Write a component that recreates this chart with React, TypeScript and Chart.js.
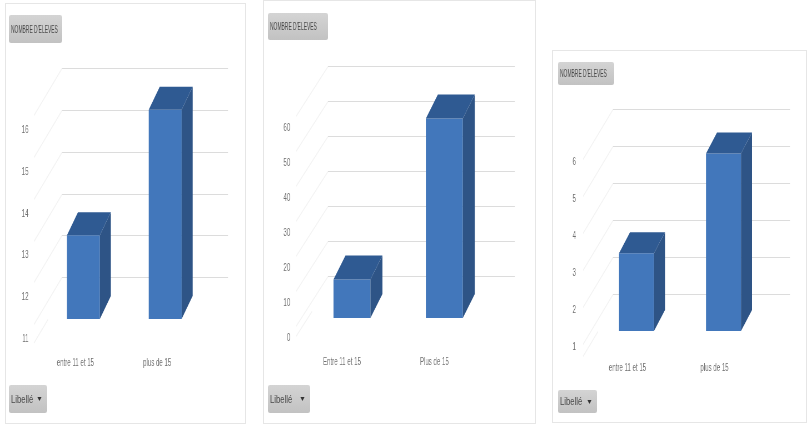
import React, { useEffect, useRef } from "react";
import { Chart, registerables } from "chart.js";

Chart.register(...registerables);

const FONT = "'Liberation Sans', Arial, sans-serif";
// Each canvas is drawn wide and narrowed with CSS, which gives the condensed lettering
const SQUEEZE = 1.8;

// Category names and pupil counts for each of the three pivot charts
const categoriesLower = ["entre 11 et 15", "plus de 15"];
const categoriesUpper = ["Entre 11 et 15", "Plus de 15"];
const countsLeft = [13, 16];
const countsMiddle = [11, 57];
const countsRight = [3.1, 5.8];
const ticksLeft = [11, 12, 13, 14, 15, 16];
const ticksMiddle = [0, 10, 20, 30, 40, 50, 60];
const ticksRight = [1, 2, 3, 4, 5, 6];
const valueTitle = "NOMBRE D'ELEVES";
const filterTitle = "Libellé";

type PanelSpec = {
  box: [number, number, number, number];
  categories: string[];
  values: number[];
  ticks: number[];
  range: [number, number];
  plot: { top: number; bottom: number; center: number; step: number; barWidth: number };
  depth: [number, number];
  grid: { left: number; right: number; shift: number };
  wall: [number, number];
  labelDrop: number;
  tickPad: number;
  catPad: number;
  catShift: number;
  titleChip: [number, number, number, number];
  filterChip: [number, number, number, number];
};

const panels: PanelSpec[] = [
  {
    box: [5, 3, 241, 421],
    categories: categoriesLower,
    values: countsLeft,
    ticks: ticksLeft,
    range: [11, 17],
    plot: { top: 68, bottom: 319, center: 83.5, step: 82, barWidth: 33 },
    depth: [11, 23],
    grid: { left: 62, right: 228, shift: 0 },
    wall: [28, 47],
    labelDrop: 20,
    tickPad: 14,
    catPad: 37.5,
    catShift: -8,
    titleChip: [9, 15, 53, 28],
    filterChip: [9, 385, 38, 28],
  },
  {
    box: [263, 0, 273, 424],
    categories: categoriesUpper,
    values: countsMiddle,
    ticks: ticksMiddle,
    range: [0, 70],
    plot: { top: 73, bottom: 318, center: 352, step: 92.5, barWidth: 37 },
    depth: [12, 24],
    grid: { left: 328, right: 515, shift: -7 },
    wall: [32, 50],
    labelDrop: 20,
    tickPad: 15.5,
    catPad: 37.5,
    catShift: -10,
    titleChip: [268, 13, 60, 27],
    filterChip: [268, 385, 42, 28],
  },
  {
    box: [552, 50, 255, 373],
    categories: categoriesLower,
    values: countsRight,
    ticks: ticksRight,
    range: [1, 7],
    plot: { top: 109, bottom: 331, center: 636.5, step: 87, barWidth: 35 },
    depth: [11, 21],
    grid: { left: 613, right: 790, shift: 0 },
    wall: [30, 50],
    labelDrop: 16,
    tickPad: 17,
    catPad: 30.5,
    catShift: -9,
    titleChip: [558, 62, 56, 23],
    filterChip: [558, 390, 39, 23],
  },
];

// Back wall, side wall and the extruded faces of each column
const extrusion = (spec: PanelSpec) => ({
  id: "extrusion",
  beforeDatasetsDraw(chart: any) {
    const { ctx } = chart;
    const y = chart.scales.y;
    const ox = spec.box[0];
    const left = (spec.grid.left - ox) * SQUEEZE;
    const right = (spec.grid.right - ox) * SQUEEZE;
    const run = spec.wall[0] * SQUEEZE;
    const drop = spec.wall[1];
    const values: number[] = [];
    for (let v = spec.range[0]; v <= spec.range[1] + 1e-6; v += spec.ticks[1] - spec.ticks[0]) values.push(v);
    ctx.save();
    values.forEach((v, i) => {
      const py = Math.round(y.getPixelForValue(v) + spec.grid.shift) + 0.5;
      ctx.strokeStyle = "#f3f3f3";
      ctx.lineWidth = 1.5;
      ctx.beginPath();
      if (i === 0) {
        // The floor edge only shows its front half
        ctx.moveTo(left - run / 2, py);
        ctx.lineTo(left - run, py + drop / 2);
      } else {
        ctx.moveTo(left, py);
        ctx.lineTo(left - run, py + drop);
      }
      ctx.stroke();
      if (i > 0) {
        ctx.strokeStyle = "#dcdcdc";
        ctx.lineWidth = 1;
        ctx.beginPath();
        ctx.moveTo(left, py);
        ctx.lineTo(right, py);
        ctx.stroke();
      }
    });
    ctx.restore();
  },
  afterDatasetsDraw(chart: any) {
    const { ctx } = chart;
    const dx = spec.depth[0] * SQUEEZE;
    const dy = spec.depth[1];
    ctx.save();
    chart.getDatasetMeta(0).data.forEach((bar: any) => {
      const l = bar.x - bar.width / 2;
      const r = bar.x + bar.width / 2;
      ctx.fillStyle = "#2e5486";
      ctx.beginPath();
      ctx.moveTo(r, bar.y);
      ctx.lineTo(r + dx, bar.y - dy);
      ctx.lineTo(r + dx, bar.base - dy);
      ctx.lineTo(r, bar.base);
      ctx.closePath();
      ctx.fill();
      ctx.fillStyle = "#2f5a92";
      ctx.beginPath();
      ctx.moveTo(l, bar.y);
      ctx.lineTo(l + dx, bar.y - dy);
      ctx.lineTo(r + dx, bar.y - dy);
      ctx.lineTo(r, bar.y);
      ctx.closePath();
      ctx.fill();
    });
    ctx.restore();
  },
});

function PanelChart({ spec }: { spec: PanelSpec }) {
  const ref = useRef<HTMLCanvasElement>(null);
  const [ox, oy, w, h] = spec.box;
  const { plot } = spec;

  useEffect(() => {
    const chartLeft = (plot.center - plot.step / 2 - ox) * SQUEEZE;
    const chartRight = (plot.center + plot.step * 1.5 - ox) * SQUEEZE;
    const top = plot.top - oy;
    const bottom = plot.bottom - oy;
    const perPixel = (spec.range[1] - spec.range[0]) / (bottom - top);
    const chart = new Chart(ref.current!, {
      type: "bar",
      data: {
        labels: spec.categories,
        datasets: [
          {
            data: spec.values,
            base: spec.range[0],
            backgroundColor: "#4277bb",
            borderWidth: 0,
            categoryPercentage: 1,
            barPercentage: plot.barWidth / plot.step,
          },
        ],
      },
      plugins: [extrusion(spec)],
      options: {
        animation: false,
        responsive: false,
        devicePixelRatio: 1,
        layout: { padding: { top, right: w * SQUEEZE - chartRight, left: 0, bottom: 0 } },
        plugins: { legend: { display: false }, tooltip: { enabled: false } },
        scales: {
          x: {
            grid: { display: false, drawTicks: false },
            border: { display: false },
            ticks: {
              color: "#707070",
              font: { family: FONT, size: 11 },
              padding: spec.catPad,
              labelOffset: spec.catShift * SQUEEZE,
              maxRotation: 0,
            },
            afterFit(scale: any) {
              scale.height = h - bottom;
            },
          },
          y: { display: false, min: spec.range[0], max: spec.range[1] },
          // The value labels sit on the floor edge, below the columns' front plane
          yLabels: {
            type: "linear",
            axis: "y",
            position: "left",
            min: spec.range[0] + spec.labelDrop * perPixel,
            max: spec.range[1] + spec.labelDrop * perPixel,
            grid: { display: false, drawTicks: false },
            border: { display: false },
            ticks: {
              color: "#707070",
              font: { family: FONT, size: 11 },
              padding: spec.tickPad * SQUEEZE,
              autoSkip: false,
            },
            afterBuildTicks(scale: any) {
              scale.ticks = spec.ticks.map((value) => ({ value }));
            },
            afterFit(scale: any) {
              scale.width = chartLeft;
            },
          },
        },
      } as any,
    });
    return () => chart.destroy();
  }, []);

  return (
    <canvas
      ref={ref}
      width={w * SQUEEZE}
      height={h}
      style={{ position: "absolute", left: 0, top: 0, transform: `scaleX(${1 / SQUEEZE})`, transformOrigin: "0 0" }}
    />
  );
}

function FieldChip({ rect, origin, text, squeeze, arrow }: { rect: number[]; origin: number[]; text: string; squeeze: number; arrow?: boolean }) {
  return (
    <div
      style={{
        position: "absolute",
        left: rect[0] - origin[0],
        top: rect[1] - origin[1],
        width: rect[2],
        height: rect[3],
        background: "linear-gradient(#d4d4d4, #c2c2c2)",
        borderRadius: 2,
        overflow: "hidden",
        color: "#484848",
        fontFamily: FONT,
        fontSize: 11,
        lineHeight: `${rect[3]}px`,
        whiteSpace: "nowrap",
      }}
    >
      <span style={{ display: "inline-block", marginLeft: 2, transform: `scaleX(${squeeze})`, transformOrigin: "left center" }}>{text}</span>
      {arrow && <span style={{ position: "absolute", right: 4, top: 0, fontSize: 7, color: "#333" }}>▼</span>}
    </div>
  );
}

export default function App() {
  return (
    <div style={{ position: "fixed", left: 0, top: 0, width: 807, height: 425, background: "#fff", overflow: "hidden" }}>
      {panels.map((spec, i) => (
        <div
          key={i}
          style={{
            position: "absolute",
            left: spec.box[0],
            top: spec.box[1],
            width: spec.box[2],
            height: spec.box[3],
            boxShadow: "inset 0 0 0 1px #e6e6e6",
            overflow: "hidden",
          }}
        >
          <PanelChart spec={spec} />
          <FieldChip rect={spec.titleChip} origin={spec.box} text={valueTitle} squeeze={0.45} />
          <FieldChip rect={spec.filterChip} origin={spec.box} text={filterTitle} squeeze={0.7} arrow />
        </div>
      ))}
    </div>
  );
}
